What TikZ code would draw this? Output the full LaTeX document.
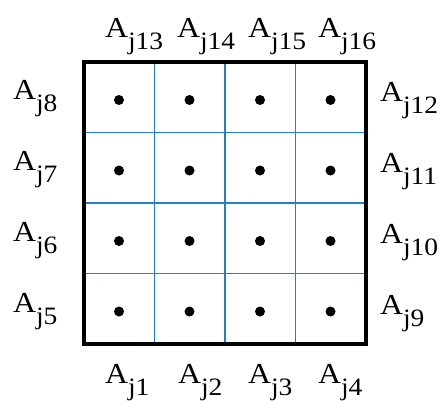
\documentclass[tikz,border=0pt]{standalone}
\usepackage{fontspec}
\setmainfont{Liberation Serif}
\definecolor{gridblue}{RGB}{40,125,200}
\newcommand{\lab}[1]{\scalebox{1.1}[1]{\fontsize{29}{31}\selectfont A\raisebox{-12pt}{\fontsize{25}{27}\selectfont j#1}}}
\begin{document}
\begin{tikzpicture}[x=1pt,y=-1pt,
  lbl/.style={anchor=base west,inner sep=0pt,outer sep=0pt},
  dot/.style={circle,fill=black,inner sep=0pt,minimum size=10pt},
  gline/.style={draw=gridblue,line width=1.4pt},
  frame/.style={draw=black,line width=3.3pt}]
\useasboundingbox (0,0) rectangle (441,400);
% grid lines
\foreach \i in {1,2,3}{
  \coordinate (vt\i) at ({84+70.5*\i},62);
  \coordinate (vb\i) at ({84+70.5*\i},344);
  \coordinate (hl\i) at (84,{62+70.5*\i});
  \coordinate (hr\i) at (366,{62+70.5*\i});
  \draw[gline] (vt\i) -- (vb\i);
  \draw[gline] (hl\i) -- (hr\i);
}
\coordinate (tl) at (84,62);
\coordinate (br) at (366,344);
\draw[frame] (tl) rectangle (br);
% dots
\foreach \c in {0,1,2,3}{
  \foreach \r in {0,1,2,3}{
    \node[dot] (d\c\r) at ({119+70.5*\c},{100+70.5*\r}) {};
  }
}
% top labels
\node[lbl] (t13) at (105,37) {\lab{13}};
\node[lbl] (t14) at (177,37) {\lab{14}};
\node[lbl] (t15) at (248,37) {\lab{15}};
\node[lbl] (t16) at (318,37) {\lab{16}};
% bottom labels
\node[lbl] (b1) at (105,383) {\lab{1}};
\node[lbl] (b2) at (178,383) {\lab{2}};
\node[lbl] (b3) at (248,383) {\lab{3}};
\node[lbl] (b4) at (318,383) {\lab{4}};
% left labels
\node[lbl] (l8) at (13,99) {\lab{8}};
\node[lbl] (l7) at (13,170) {\lab{7}};
\node[lbl] (l6) at (13,241) {\lab{6}};
\node[lbl] (l5) at (13,312) {\lab{5}};
% right labels
\node[lbl] (r12) at (380,101) {\lab{12}};
\node[lbl] (r11) at (380,172) {\lab{11}};
\node[lbl] (r10) at (380,243) {\lab{10}};
\node[lbl] (r9) at (380,314) {\lab{9}};
\end{tikzpicture}
\end{document}
